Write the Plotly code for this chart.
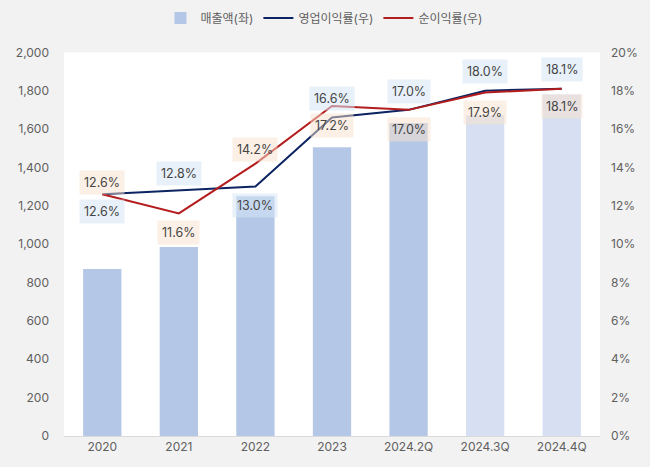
import plotly.graph_objects as go

# ── data ──────────────────────────────────────────────────────────────
periods   = ["2020", "2021", "2022", "2023", "2024.2Q", "2024.3Q", "2024.4Q"]
sales     = [870, 985, 1250, 1505, 1632, 1672, 1780]          # 매출액 (left axis)
op_margin = [12.6, 12.8, 13.0, 16.6, 17.0, 18.0, 18.1]         # 영업이익률 (%)
net_margin = [12.6, 11.6, 14.2, 17.2, 17.0, 17.9, 18.1]        # 순이익률 (%)

# label placement (y2 value where each label box sits)
op_label_y  = [11.7, 13.7, 12.0, 17.6, 17.95, 18.98, 19.1]
net_label_y = [13.2, 10.6, 14.95, 16.2, 15.95, 16.85, 17.15]

bar_colors = ["#b4c7e7"] * 5 + ["#d6e0f2"] * 2
FONT = "Inter, Noto Sans CJK KR, sans-serif"
TXT = "#5f5f5f"

fig = go.Figure()

fig.add_trace(go.Bar(
    x=periods, y=sales, name="매출액(좌)",
    marker=dict(color=bar_colors, line=dict(width=0)),
    yaxis="y",
))
fig.add_trace(go.Scatter(
    x=periods, y=op_margin, name="영업이익률(우)", mode="lines",
    line=dict(color="#0c2461", width=2), yaxis="y2",
))
fig.add_trace(go.Scatter(
    x=periods, y=net_margin, name="순이익률(우)", mode="lines",
    line=dict(color="#b41d1d", width=2), yaxis="y2",
))

# ── data labels (semi-transparent boxes, drawn on top) ───────────────
# category axis: use the index, since "2020" would be read as position 2020
for i, (v, ly) in enumerate(zip(op_margin, op_label_y)):
    fig.add_annotation(
        x=i, y=ly, yref="y2", text=f"{v:.1f}%", showarrow=False,
        font=dict(size=12.5, color="#454545", family=FONT),
        bgcolor="rgba(214,230,245,0.55)", borderpad=4,
    )
for i, (v, ly) in enumerate(zip(net_margin, net_label_y)):
    fig.add_annotation(
        x=i, y=ly, yref="y2", text=f"{v:.1f}%", showarrow=False,
        font=dict(size=12.5, color="#454545", family=FONT),
        bgcolor="rgba(250,225,205,0.5)", borderpad=4,
    )

fig.update_layout(
    width=650, height=467,
    margin=dict(l=64, r=50, t=34, b=31),
    paper_bgcolor="#f2f2f2", plot_bgcolor="#ffffff",
    font=dict(family=FONT, size=12, color=TXT),
    bargap=0.5,
    showlegend=True,
    legend=dict(
        orientation="h", x=0.485, xanchor="center",
        yref="container", y=1 - 18 / 467, yanchor="middle",
        font=dict(size=12, color=TXT), bgcolor="rgba(0,0,0,0)",
        itemwidth=30, tracegroupgap=0,
    ),
    xaxis=dict(
        type="category",
        showgrid=False, showline=True, linecolor="#d9d9d9", linewidth=1,
        ticks="", tickfont=dict(size=12, color=TXT),
    ),
    yaxis=dict(
        range=[0, 2000], dtick=200, tickformat=",", showgrid=False,
        zeroline=False, ticks="", ticklabelstandoff=14,
        tickfont=dict(size=12, color=TXT),
    ),
    yaxis2=dict(
        range=[0, 20], dtick=2, ticksuffix="%", overlaying="y", side="right",
        showgrid=False, zeroline=False, ticks="", ticklabelstandoff=10,
        tickfont=dict(size=12, color=TXT),
    ),
)

# page body has a default 8px margin; drop it so the figure fills the window
fig.write_html(
    "out.html",
    config={"displayModeBar": False},
    post_script="document.body.style.margin='0';",
)
